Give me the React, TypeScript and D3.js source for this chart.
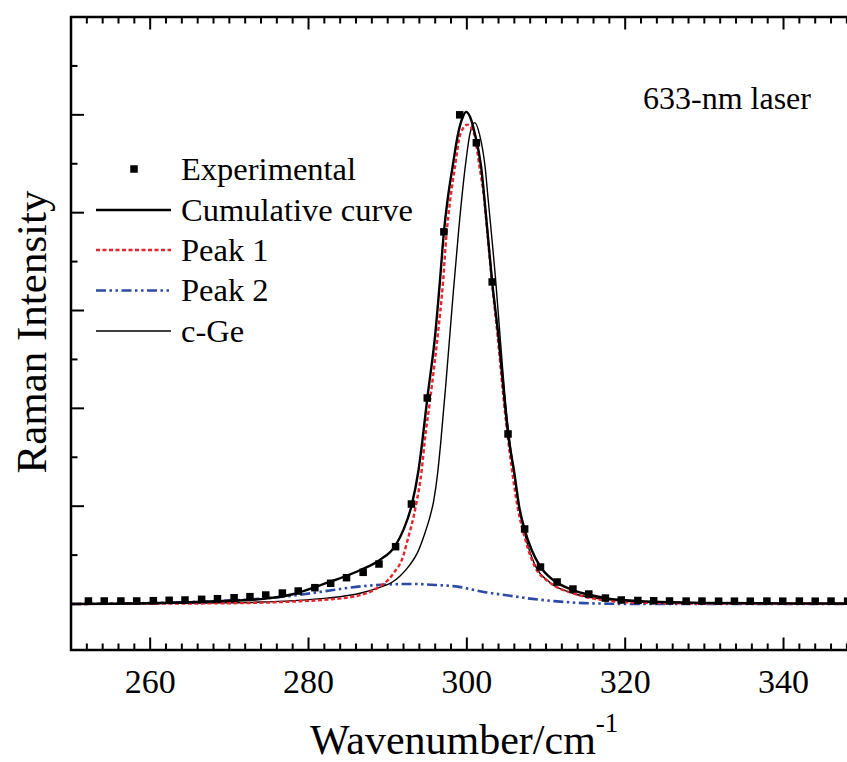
import React from "react";
import * as d3 from "d3";

// ---- data ----
const expWave = [252.2, 254.2, 256.3, 258.3, 260.4, 262.4, 264.4, 266.5, 268.5, 270.6, 272.6, 274.6, 276.7, 278.7, 280.8, 282.8, 284.8, 286.9, 288.9, 291.0, 293.0, 295.0, 297.1, 299.1, 301.2, 303.2, 305.2, 307.3, 309.3, 311.4, 313.4, 315.4, 317.5, 319.5, 321.6, 323.6, 325.6, 327.7, 329.7, 331.8, 333.8, 335.8, 337.9, 339.9, 342.0, 344.0, 346.0, 348.1];
const expInt = [0.031, 0.031, 0.031, 0.031, 0.034, 0.038, 0.041, 0.048, 0.054, 0.064, 0.075, 0.092, 0.112, 0.133, 0.167, 0.212, 0.269, 0.324, 0.409, 0.586, 1.022, 2.106, 3.804, 5.0, 4.714, 3.292, 1.738, 0.767, 0.378, 0.225, 0.153, 0.102, 0.061, 0.041, 0.036, 0.033, 0.031, 0.030, 0.030, 0.029, 0.029, 0.029, 0.030, 0.029, 0.030, 0.029, 0.030, 0.029];

const cumWave = [250, 255, 260, 265, 270, 274, 278, 282.3, 286.5, 289.0, 291.0, 292.0, 293.0, 293.9, 294.4, 295.0, 296.0, 296.6, 297.1, 297.6, 298.2, 298.9, 299.5, 299.9, 300.4, 301.0, 301.8, 302.5, 303.2, 304.0, 304.8, 305.2, 306.0, 306.6, 307.3, 308.2, 309.3, 310.9, 313.4, 315.6, 317.7, 321.9, 326, 330, 340, 350];
const cumInt = [0.0, 0.003, 0.008, 0.018, 0.033, 0.05, 0.1, 0.215, 0.345, 0.45, 0.6, 0.76, 1.0, 1.37, 1.68, 2.1, 2.75, 3.3, 3.8, 4.15, 4.47, 4.81, 4.98, 5.03, 4.98, 4.81, 4.47, 3.9, 3.29, 2.73, 2.05, 1.74, 1.34, 1.0, 0.76, 0.55, 0.38, 0.245, 0.143, 0.092, 0.058, 0.03, 0.018, 0.012, 0.007, 0.004];

const p1Wave = [250, 260, 270, 273.9, 278.1, 282.3, 286.5, 288.4, 290.7, 292.0, 292.4, 293.6, 294.3, 294.7, 295.3, 296.3, 297.0, 297.4, 297.9, 298.5, 299.2, 300.1, 300.9, 301.6, 302.2, 302.6, 303.1, 303.9, 304.7, 305.7, 306.4, 307.4, 308.6, 310.3, 313.4, 317.7, 321.9, 330, 350];
const p1Int = [0.0, 0.004, 0.008, 0.013, 0.025, 0.045, 0.09, 0.15, 0.31, 0.5, 0.62, 1.02, 1.37, 1.68, 2.05, 2.73, 3.3, 3.75, 4.13, 4.47, 4.81, 4.9, 4.81, 4.47, 4.13, 3.79, 3.35, 2.73, 2.05, 1.37, 0.995, 0.654, 0.38, 0.23, 0.11, 0.035, 0.013, 0.005, 0.002];

const p2Wave = [250, 255, 260, 265, 270, 274, 278, 282, 286, 290, 293, 296, 299, 302, 305, 308, 311, 314, 318, 322, 350];
const p2Int = [0.0, 0.005, 0.01, 0.02, 0.035, 0.055, 0.085, 0.13, 0.175, 0.2, 0.205, 0.195, 0.175, 0.125, 0.09, 0.055, 0.03, 0.012, 0.003, 0.0, 0.0];

const geWave = [250, 260, 270, 273.9, 278.1, 282.3, 286.5, 289.0, 290.5, 291.6, 292.8, 293.8, 294.6, 295.3, 295.8, 296.3, 296.7, 297.4, 298.2, 299.0, 299.8, 300.4, 301.0, 301.6, 302.3, 302.7, 303.1, 303.6, 304.2, 304.9, 305.9, 306.6, 307.3, 308.6, 310.5, 313.4, 317.7, 322, 330, 350];
const geInt = [0.0, 0.006, 0.013, 0.02, 0.035, 0.06, 0.11, 0.17, 0.22, 0.29, 0.40, 0.53, 0.70, 0.88, 1.05, 1.33, 1.65, 2.3, 3.1, 3.85, 4.47, 4.81, 4.92, 4.8, 4.47, 4.13, 3.79, 3.35, 2.73, 2.05, 1.37, 0.99, 0.72, 0.4, 0.22, 0.11, 0.045, 0.02, 0.008, 0.002];

const xMajorTicks = [260, 280, 300, 320, 340];
const yMajorTicks = [0, 1, 2, 3, 4, 5, 6];
const legendLabels = ["Experimental", "Cumulative curve", "Peak 1", "Peak 2", "c-Ge"];
const annotation = "633-nm laser";
const xTitle = "Wavenumber/cm";
const xTitleSup = "-1";
const yTitle = "Raman Intensity";

const FONT = "'Liberation Serif', 'Times New Roman', serif";

export default function App() {
  const W = 847, H = 762;
  const left = 71, top = 17, bottom = 650;
  const x = d3.scaleLinear().domain([250, 350]).range([left, 862.7]);
  const y = d3.scaleLinear().domain([-0.47, 6]).range([bottom, top]);

  const mk = (ws: number[], vs: number[]) =>
    d3.line<number>().x((_, i) => x(ws[i])).y((v) => y(v)).curve(d3.curveMonotoneX)(vs) || "";

  const minorX = d3.range(250, 351, 2).filter((v) => v % 20 !== 0);
  const minorY = d3.range(-0.5, 6.01, 0.5).filter((v) => Math.abs(v - Math.round(v)) > 0.01 && v > -0.47);
  const right = x(350);

  const red = "#e8232a";
  const blue = "#2d4ba6";
  const blueDash = "10,3.5,2.5,3.5,2.5,3.5";
  const redDash = "4,2.5";
  const legY = [169, 210, 250, 290.5, 331];
  const lx0 = 96, lx1 = 171, tx = 181;
  const sq = 7.5;

  return (
    <svg width={W} height={H} style={{ position: "absolute", left: 0, top: 0, background: "#fff" }} fontFamily={FONT}>
      <defs>
        <clipPath id="plot">
          <rect x={left} y={top} width={right - left} height={bottom - top} />
        </clipPath>
      </defs>
      <rect x={0} y={0} width={W} height={H} fill="#fff" />
      <g clipPath="url(#plot)">
        <path d={mk(p2Wave, p2Int)} fill="none" stroke={blue} strokeWidth={2.6} strokeDasharray={blueDash} />
        <path d={mk(geWave, geInt)} fill="none" stroke="#000" strokeWidth={1.4} />
        <path d={mk(p1Wave, p1Int)} fill="none" stroke={red} strokeWidth={2.4} strokeDasharray={redDash} />
        <path d={mk(cumWave, cumInt)} fill="none" stroke="#000" strokeWidth={2.4} />
        {expWave.map((w, i) => (
          <rect key={i} x={x(w) - sq / 2} y={y(expInt[i]) - sq / 2} width={sq} height={sq} fill="#000" />
        ))}
      </g>
      {/* frame */}
      <rect x={left} y={top} width={right - left} height={bottom - top} fill="none" stroke="#000" strokeWidth={2.5} />
      {/* x ticks bottom & top */}
      {xMajorTicks.map((t) => (
        <g key={"xm" + t}>
          <line x1={x(t)} x2={x(t)} y1={bottom} y2={bottom - 12.5} stroke="#000" strokeWidth={2} />
          <line x1={x(t)} x2={x(t)} y1={top} y2={top + 12.5} stroke="#000" strokeWidth={2} />
          <text x={x(t)} y={693} textAnchor="middle" fontSize={34}>{t}</text>
        </g>
      ))}
      {minorX.map((t) => (
        <g key={"xn" + t}>
          <line x1={x(t)} x2={x(t)} y1={bottom} y2={bottom - 6.5} stroke="#000" strokeWidth={2} />
          <line x1={x(t)} x2={x(t)} y1={top} y2={top + 6.5} stroke="#000" strokeWidth={2} />
        </g>
      ))}
      {yMajorTicks.map((t) => (
        <line key={"ym" + t} x1={left} x2={left + 13} y1={y(t)} y2={y(t)} stroke="#000" strokeWidth={2} />
      ))}
      {minorY.map((t) => (
        <line key={"yn" + t} x1={left} x2={left + 6.5} y1={y(t)} y2={y(t)} stroke="#000" strokeWidth={2} />
      ))}
      {/* axis titles */}
      <text x={310} y={754} fontSize={42}>
        {xTitle}
        <tspan fontSize={27} dy={-22}>{xTitleSup}</tspan>
      </text>
      <text transform={`translate(46, ${332}) rotate(-90)`} textAnchor="middle" fontSize={43}>{yTitle}</text>
      {/* annotation */}
      <text x={643} y={109} fontSize={32}>{annotation}</text>
      {/* legend */}
      <rect x={134 - sq / 2} y={legY[0] - sq / 2} width={sq} height={sq} fill="#000" />
      <line x1={lx0} x2={lx1} y1={legY[1]} y2={legY[1]} stroke="#000" strokeWidth={2.4} />
      <line x1={lx0} x2={lx1} y1={legY[2]} y2={legY[2]} stroke={red} strokeWidth={2.4} strokeDasharray={redDash} />
      <line x1={lx0} x2={lx1} y1={legY[3]} y2={legY[3]} stroke={blue} strokeWidth={2.6} strokeDasharray={blueDash} />
      <line x1={lx0} x2={lx1} y1={legY[4]} y2={legY[4]} stroke="#000" strokeWidth={1.4} />
      {legendLabels.map((l, i) => (
        <text key={l} x={tx} y={legY[i] + 10.5} fontSize={32.5}>{l}</text>
      ))}
    </svg>
  );
}
